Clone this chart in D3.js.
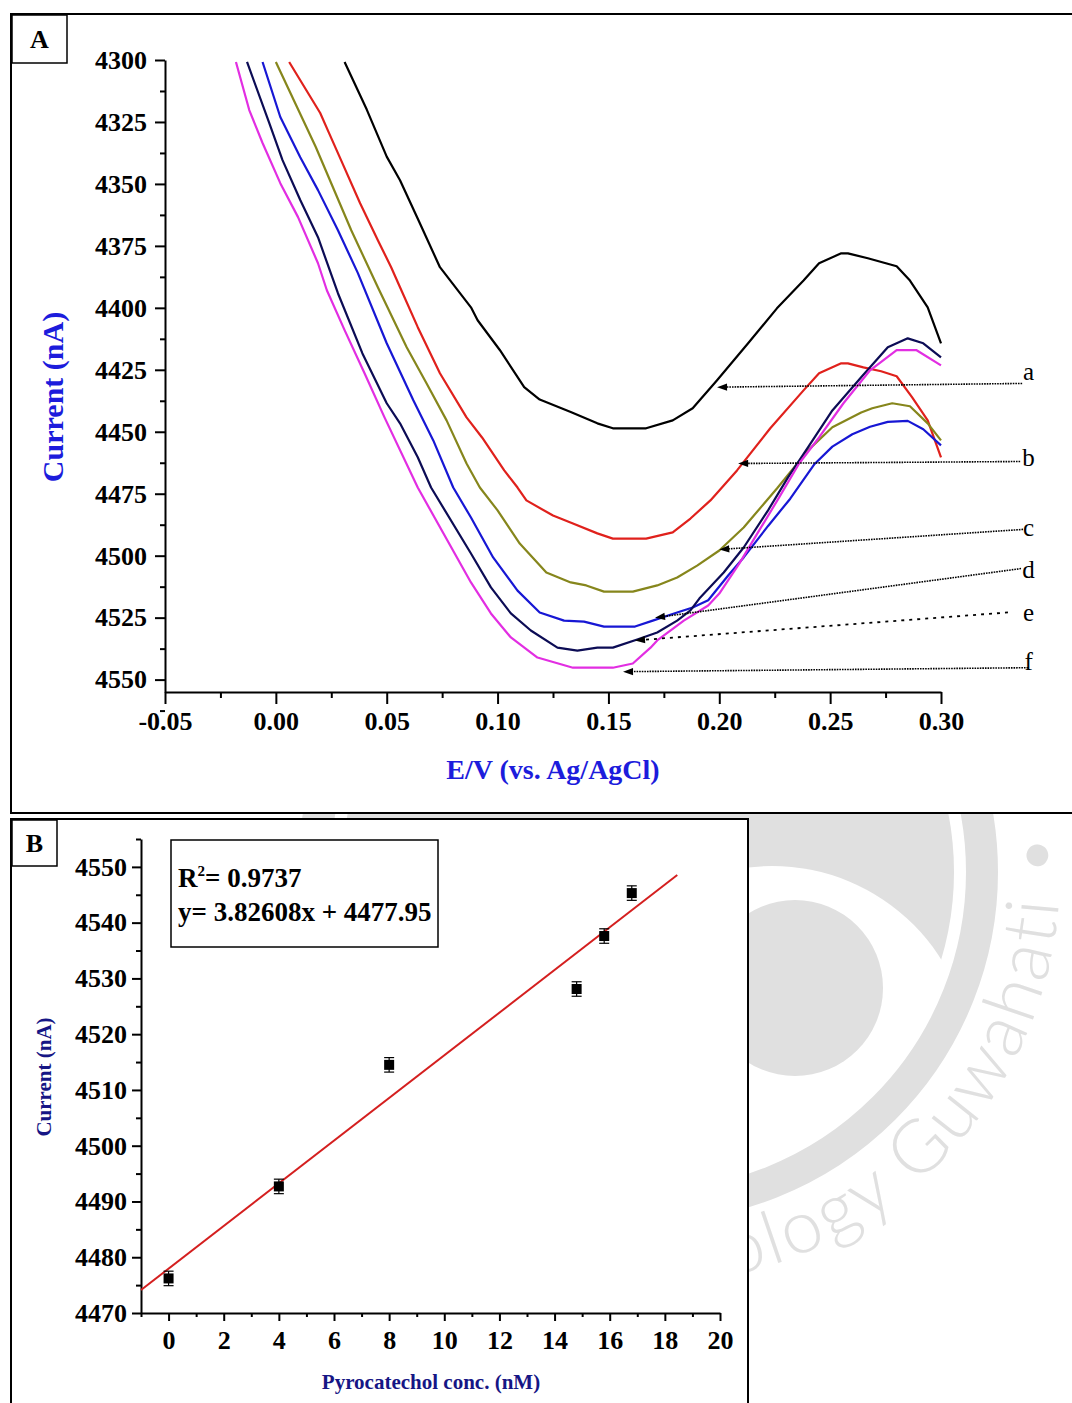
<!DOCTYPE html>
<html>
<head>
<meta charset="utf-8">
<script src="https://cdn.jsdelivr.net/npm/d3@7"></script>
<style>
  body { margin: 0; background: #fff; }
  svg { display: block; }
  text { font-family: "Liberation Serif", "Times New Roman", serif; }
</style>
</head>
<body>
<svg id="fig" width="1072" height="1403"></svg>
<script>
// ---- panel A: DPV curves, potential (V) vs current (nA) ----
const curve_a = [[0.031,4300.8],[0.041,4320],[0.050,4339],[0.056,4348.5],[0.065,4366],[0.074,4383.6],[0.088,4399.8],[0.091,4405],[0.101,4417],[0.112,4432],[0.119,4437],[0.133,4442],[0.145,4446.6],[0.152,4448.6],[0.167,4448.6],[0.179,4445.4],[0.188,4440.5],[0.199,4429.2],[0.213,4414.3],[0.226,4400.2],[0.238,4389],[0.245,4382],[0.255,4378],[0.258,4378],[0.267,4380],[0.280,4383.2],[0.286,4389],[0.294,4399.8],[0.300,4414.3]];
const curve_b = [[0.006,4300.8],[0.020,4321.4],[0.024,4329.5],[0.030,4341.6],[0.038,4357.8],[0.046,4372.7],[0.052,4383.6],[0.056,4391.7],[0.064,4407.8],[0.074,4426.4],[0.086,4444.2],[0.093,4452.3],[0.103,4465.6],[0.109,4472.5],[0.113,4477.7],[0.125,4483.8],[0.134,4487.0],[0.145,4491.0],[0.152,4493.1],[0.167,4493.1],[0.179,4490.6],[0.187,4485.0],[0.196,4477.7],[0.208,4465.6],[0.223,4448.6],[0.238,4433.3],[0.245,4426.4],[0.255,4422.4],[0.258,4422.4],[0.265,4424.0],[0.273,4425.6],[0.280,4427.6],[0.287,4436.1],[0.294,4445.4],[0.300,4460.3]];
const curve_c = [[0.000,4300.8],[0.018,4335.1],[0.034,4368.7],[0.046,4391.7],[0.059,4415.9],[0.068,4430.5],[0.077,4445.4],[0.086,4462.8],[0.092,4472.5],[0.100,4481.7],[0.110,4495.1],[0.122,4506.8],[0.133,4510.8],[0.140,4512.0],[0.148,4514.5],[0.161,4514.5],[0.172,4512.0],[0.181,4508.8],[0.190,4504.0],[0.200,4497.9],[0.211,4488.6],[0.226,4472.9],[0.240,4457.5],[0.251,4448.2],[0.264,4442.2],[0.269,4440.5],[0.278,4438.5],[0.286,4439.7],[0.294,4446.6],[0.300,4453.5]];
const curve_d = [[-0.006,4300.8],[0.002,4323.0],[0.011,4339.2],[0.019,4352.5],[0.028,4368.7],[0.037,4386.0],[0.050,4414.3],[0.062,4437.3],[0.071,4453.5],[0.080,4472.5],[0.088,4484.6],[0.098,4500.7],[0.109,4514.1],[0.119,4522.9],[0.130,4526.2],[0.139,4526.6],[0.148,4528.6],[0.162,4528.6],[0.170,4526.2],[0.181,4522.9],[0.188,4520.9],[0.195,4518],[0.204,4508],[0.211,4500.7],[0.222,4488],[0.232,4477],[0.243,4463],[0.251,4456],[0.260,4451],[0.268,4448],[0.276,4446],[0.285,4445.6],[0.292,4449],[0.300,4455.5]];
const curve_e = [[-0.013,4300.8],[-0.003,4325.4],[0.003,4340.4],[0.011,4356.5],[0.019,4371.5],[0.028,4394.1],[0.039,4418.3],[0.050,4438.5],[0.056,4446.6],[0.064,4460.3],[0.070,4472.5],[0.088,4499.1],[0.097,4512.8],[0.106,4523.3],[0.115,4530.2],[0.127,4537.1],[0.136,4538.3],[0.145,4537.1],[0.152,4537.1],[0.163,4533.8],[0.172,4531.0],[0.181,4526.2],[0.187,4522.1],[0.191,4517.3],[0.202,4506.8],[0.211,4496.7],[0.222,4481.7],[0.231,4468.4],[0.240,4456.3],[0.251,4441.4],[0.264,4428.0],[0.276,4415.9],[0.285,4412.3],[0.292,4414.3],[0.300,4420.0]];
const curve_f = [[-0.018,4300.8],[-0.012,4320.2],[-0.006,4333.5],[0.002,4349.7],[0.010,4363.4],[0.019,4382.0],[0.023,4392.9],[0.031,4409.0],[0.040,4426.4],[0.049,4444.2],[0.064,4472.5],[0.088,4510.8],[0.097,4523.3],[0.106,4533.0],[0.118,4541.1],[0.134,4545.2],[0.152,4545.2],[0.161,4543.5],[0.169,4537.1],[0.172,4534.2],[0.184,4526.2],[0.195,4520.1],[0.200,4515.3],[0.209,4503.2],[0.218,4489.8],[0.227,4476.5],[0.236,4462.8],[0.245,4452.3],[0.256,4438.5],[0.268,4425.2],[0.280,4417.1],[0.289,4417.1],[0.300,4423.2]];

const curveNames = ["a", "b", "c", "d", "e", "f"];
const xTicksA = [-0.05, 0.00, 0.05, 0.10, 0.15, 0.20, 0.25, 0.30];
const yTicksA = [4300, 4325, 4350, 4375, 4400, 4425, 4450, 4475, 4500, 4525, 4550];

// ---- panel B: calibration plot ----
const concentration = [0, 4, 8, 14.8, 15.8, 16.8];
const peakCurrent = [4476.2, 4492.7, 4514.5, 4528.1, 4537.6, 4545.3];
const currentError = [1.3, 1.3, 1.3, 1.3, 1.3, 1.3];
const fitSlope = 3.82608, fitIntercept = 4477.95, fitR2 = "0.9737";
const fitRange = [-1, 18.45];
const xTicksB = [0, 2, 4, 6, 8, 10, 12, 14, 16, 18, 20];
const yTicksB = [4470, 4480, 4490, 4500, 4510, 4520, 4530, 4540, 4550];

// leader arrows for curve labels (data coords of panel A)
const arrowTip  = [[0.199,4432],[0.2085,4462.8],[0.200,4497.5],[0.171,4525],[0.162,4534.2],[0.1566,4546.8]];
const arrowTail = [[0.3366,4430.5],[0.3357,4462],[0.337,4489.4],[0.3361,4505.2],[0.3302,4522.9],[0.3393,4545.2]];
const labelI    = [4429.2, 4464.0, 4492.2, 4509.2, 4526.2, 4546.0];

const colors = ["#000000", "#e0211c", "#86861c", "#1717d4", "#0c0c55", "#e22ee2"];

let svg = d3.select("#fig");

// watermark behind the panels
let wm = svg.append("g").attr("fill", "#e0e0e0");
wm.append("circle").attr("cx", 648).attr("cy", 872).attr("r", 306);
wm.append("circle").attr("cx", 772).attr("cy", 1066).attr("r", 200).attr("fill", "#fff");
wm.append("circle").attr("cx", 795).attr("cy", 988).attr("r", 88);
wm.append("circle").attr("cx", 648).attr("cy", 872).attr("r", 334)
    .attr("fill", "none").attr("stroke", "#e0e0e0").attr("stroke-width", 32);
{
    let cx = 648, cy = 872, r = 412;
    let a0 = 80 * Math.PI / 180, a1 = -30 * Math.PI / 180;
    wm.append("path").attr("id", "wmArc").attr("fill", "none")
        .attr("d", "M" + (cx + r * Math.cos(a0)) + "," + (cy + r * Math.sin(a0)) +
              " A" + r + "," + r + " 0 0 0 " + (cx + r * Math.cos(a1)) + "," + (cy + r * Math.sin(a1)));
    wm.append("text")
        .style("font-family", "Lato, 'Open Sans', 'DejaVu Sans', sans-serif")
        .style("font-weight", 300)
        .style("font-size", "74px")
        .style("letter-spacing", "3px")
        .append("textPath").attr("href", "#wmArc").attr("startOffset", 10)
        .text("ology Guwahati \u2022");
}

// panel frames
svg.append("rect").attr("x", 11).attr("y", 14).attr("width", 1080).attr("height", 799)
    .attr("fill", "#fff").attr("stroke", "#000").attr("stroke-width", 2);
svg.append("rect").attr("x", 11).attr("y", 819).attr("width", 737).attr("height", 620)
    .attr("fill", "#fff").attr("stroke", "#000").attr("stroke-width", 2);

function panelTag(x, y, w, h, t) {
    svg.append("rect").attr("x", x).attr("y", y).attr("width", w).attr("height", h)
        .attr("fill", "#fff").attr("stroke", "#000").attr("stroke-width", 1.5);
    svg.append("text").attr("x", x + w / 2).attr("y", y + h / 2 + 9)
        .attr("text-anchor", "middle").attr("font-weight", "bold").attr("font-size", 26)
        .text(t);
}
panelTag(12, 15, 55, 48, "A");
panelTag(12, 820, 45, 46, "B");

function styleAxis(g, size) {
    g.selectAll("path, line").attr("stroke", "#000").attr("stroke-width", 2);
    g.selectAll("text")
        .attr("font-family", "'Liberation Serif', 'Times New Roman', serif")
        .attr("font-weight", "bold")
        .attr("font-size", size)
        .attr("fill", "#000");
}

// ================= panel A =================
let xA = d3.scaleLinear().domain([-0.05, 0.30]).range([165, 941]);
let yA = d3.scaleLinear().domain([4300, 4555]).range([60, 692]);

let gA = svg.append("g");

let yMinorA = yTicksA.map(d => d + 12.5);
let xMinorA = xTicksA.slice(0, -1).map(d => d + 0.025);

gA.append("g").attr("transform", "translate(165,0)")
    .call(d3.axisLeft(yA).tickValues(yMinorA).tickSize(5).tickFormat(""))
    .call(g => g.select(".domain").remove())
    .call(g => styleAxis(g, 26));
gA.append("g").attr("transform", "translate(165,0)")
    .call(d3.axisLeft(yA).tickValues(yTicksA).tickSize(10).tickSizeOuter(0).tickPadding(8)
        .tickFormat(d3.format("d")))
    .call(g => styleAxis(g, 26));

gA.append("g").attr("transform", "translate(0,692)")
    .call(d3.axisBottom(xA).tickValues(xMinorA).tickSize(6).tickFormat(""))
    .call(g => g.select(".domain").remove())
    .call(g => styleAxis(g, 26));
gA.append("g").attr("transform", "translate(0,692)")
    .call(d3.axisBottom(xA).tickValues(xTicksA).tickSize(12).tickSizeOuter(0).tickPadding(8)
        .tickFormat(d => d.toFixed(2)))
    .call(g => styleAxis(g, 26));

gA.append("text")
    .attr("x", 553).attr("y", 779)
    .attr("text-anchor", "middle").attr("font-weight", "bold").attr("font-size", 28)
    .attr("fill", "#1c1cdc")
    .text("E/V (vs. Ag/AgCl)");
gA.append("text")
    .attr("transform", "translate(63,397) rotate(-90)")
    .attr("text-anchor", "middle").attr("font-weight", "bold").attr("font-size", 30)
    .attr("fill", "#1c1cdc")
    .text("Current (nA)");

svg.append("clipPath").attr("id", "clipA")
    .append("rect").attr("x", 165).attr("y", 60).attr("width", 780).attr("height", 632);

let lineA = d3.line().x(d => xA(d[0])).y(d => yA(d[1]));
let curves = [curve_a, curve_b, curve_c, curve_d, curve_e, curve_f];

gA.append("g").attr("clip-path", "url(#clipA)")
    .selectAll("path")
    .data(curves)
    .enter().append("path")
    .attr("d", lineA)
    .attr("fill", "none")
    .attr("stroke", (d, i) => colors[i])
    .attr("stroke-width", 2.2)
    .attr("stroke-linejoin", "round");

// leader arrows and letters
let ann = gA.append("g");
curveNames.forEach(function(name, i) {
    let px = xA(arrowTip[i][0]), py = yA(arrowTip[i][1]);
    let qx = xA(arrowTail[i][0]), qy = yA(arrowTail[i][1]);
    let len = Math.hypot(px - qx, py - qy);
    let ux = (px - qx) / len, uy = (py - qy) / len;
    let nx = -uy, ny = ux;
    let hl = 10, hw = 3.6;
    ann.append("line")
        .attr("x1", qx).attr("y1", qy)
        .attr("x2", px - ux * 6).attr("y2", py - uy * 6)
        .attr("stroke", "#000")
        .attr("stroke-width", name === "e" ? 1.8 : 1.6)
        .attr("stroke-dasharray", name === "e" ? "3,5" : "1.6,1");
    ann.append("path")
        .attr("d", "M" + px + "," + py +
              "L" + (px - ux * hl + nx * hw) + "," + (py - uy * hl + ny * hw) +
              "L" + (px - ux * hl - nx * hw) + "," + (py - uy * hl - ny * hw) + "Z")
        .attr("fill", "#000");
    ann.append("text")
        .attr("x", xA(0.3395)).attr("y", yA(labelI[i]))
        .attr("text-anchor", "middle").attr("font-size", 25)
        .text(name);
});

// ================= panel B =================
let xB = d3.scaleLinear().domain([-1, 20]).range([141, 720]);
let yB = d3.scaleLinear().domain([4470, 4555]).range([1313, 839]);

let gB = svg.append("g");

let xMinorB = [-1].concat(xTicksB.slice(0, -1).map(d => d + 1));
let yMinorB = yTicksB.map(d => d + 5);

gB.append("g").attr("transform", "translate(141,0)")
    .call(d3.axisLeft(yB).tickValues(yMinorB).tickSize(5).tickFormat(""))
    .call(g => g.select(".domain").remove())
    .call(g => styleAxis(g, 26));
gB.append("g").attr("transform", "translate(141,0)")
    .call(d3.axisLeft(yB).tickValues(yTicksB).tickSize(9).tickSizeOuter(0).tickPadding(5)
        .tickFormat(d3.format("d")))
    .call(g => styleAxis(g, 26));

gB.append("g").attr("transform", "translate(0,1313)")
    .call(d3.axisBottom(xB).tickValues(xMinorB).tickSize(4).tickFormat(""))
    .call(g => g.select(".domain").remove())
    .call(g => styleAxis(g, 26));
gB.append("g").attr("transform", "translate(0,1313)")
    .call(d3.axisBottom(xB).tickValues(xTicksB).tickSize(8).tickSizeOuter(0).tickPadding(10)
        .tickFormat(d3.format("d")))
    .call(g => styleAxis(g, 26));

gB.append("text")
    .attr("x", 431).attr("y", 1389)
    .attr("text-anchor", "middle").attr("font-weight", "bold").attr("font-size", 21)
    .attr("fill", "#161685")
    .text("Pyrocatechol conc. (nM)");
gB.append("text")
    .attr("transform", "translate(51,1077) rotate(-90)")
    .attr("text-anchor", "middle").attr("font-weight", "bold").attr("font-size", 21)
    .attr("fill", "#161685")
    .text("Current (nA)");

// fit line
gB.append("line")
    .attr("x1", xB(fitRange[0])).attr("y1", yB(fitIntercept + fitSlope * fitRange[0]))
    .attr("x2", xB(fitRange[1])).attr("y2", yB(fitIntercept + fitSlope * fitRange[1]))
    .attr("stroke", "#d41f1f").attr("stroke-width", 2);

// points with error bars
let pts = concentration.map((c, i) => ({ x: c, y: peakCurrent[i], e: currentError[i] }));
let pg = gB.append("g").selectAll("g").data(pts).enter().append("g");
pg.append("line")
    .attr("x1", d => xB(d.x)).attr("x2", d => xB(d.x))
    .attr("y1", d => yB(d.y - d.e)).attr("y2", d => yB(d.y + d.e))
    .attr("stroke", "#000").attr("stroke-width", 1.2);
[-1, 1].forEach(function(s) {
    pg.append("line")
        .attr("x1", d => xB(d.x) - 5).attr("x2", d => xB(d.x) + 5)
        .attr("y1", d => yB(d.y + s * d.e)).attr("y2", d => yB(d.y + s * d.e))
        .attr("stroke", "#000").attr("stroke-width", 1.2);
});
pg.append("rect")
    .attr("x", d => xB(d.x) - 5).attr("y", d => yB(d.y) - 5)
    .attr("width", 10).attr("height", 10)
    .attr("fill", "#000");

// equation box
gB.append("rect").attr("x", 171).attr("y", 840).attr("width", 267).attr("height", 107)
    .attr("fill", "#fff").attr("stroke", "#000").attr("stroke-width", 1.5);
let r2 = gB.append("text").attr("x", 178).attr("y", 887)
    .attr("font-weight", "bold").attr("font-size", 27);
r2.append("tspan").text("R");
r2.append("tspan").attr("font-size", 15).attr("dy", -11).text("2");
r2.append("tspan").attr("dy", 11).text("= " + fitR2);
gB.append("text").attr("x", 178).attr("y", 921)
    .attr("font-weight", "bold").attr("font-size", 27)
    .text("y= " + fitSlope + "x + " + fitIntercept);
</script>
</body>
</html>
